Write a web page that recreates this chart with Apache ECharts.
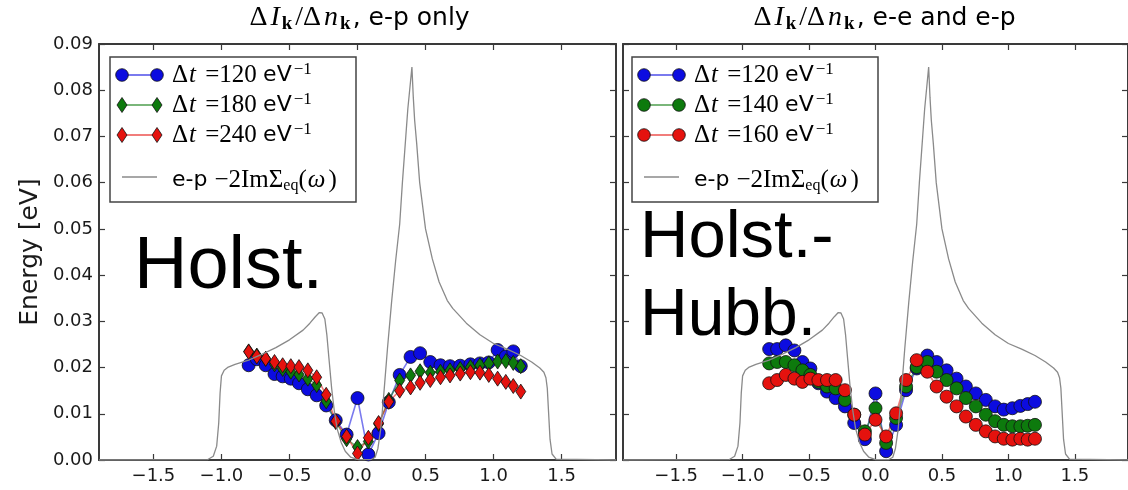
<!DOCTYPE html>
<html><head><meta charset="utf-8">
<script src="https://cdn.jsdelivr.net/npm/echarts@6/dist/echarts.min.js"></script>
<style>html,body{margin:0;padding:0;background:#fff}#c{width:1128px;height:490px}</style>
</head><body><div id="c"></div>
<script>
// ---------- data ----------
const xTicks = [-1.5, -1.0, -0.5, 0.0, 0.5, 1.0, 1.5];
const yTicks = [0.00, 0.01, 0.02, 0.03, 0.04, 0.05, 0.06, 0.07, 0.08, 0.09];
const kEnergy = [-0.80, -0.74, -0.675, -0.61, -0.55, -0.49, -0.43, -0.365, -0.30, -0.23, -0.16, -0.08, 0.0, 0.08, 0.155, 0.23, 0.31, 0.39, 0.46, 0.535, 0.61, 0.68, 0.755, 0.83, 0.90, 0.965, 1.03, 1.09, 1.145, 1.20];
// panel 1: e-p only
const epBlue120 = [0.0205, 0.0218, 0.0205, 0.0186, 0.0181, 0.0176, 0.0166, 0.0153, 0.0140, 0.0118, 0.0086, 0.0055, 0.0134, 0.0012, 0.0058, 0.0125, 0.0184, 0.0223, 0.0231, 0.0212, 0.0205, 0.0203, 0.0204, 0.0207, 0.0209, 0.0211, 0.0238, 0.0224, 0.0235, 0.0203];
const epGreen180 = [0.0235, 0.0226, 0.0219, 0.0207, 0.0197, 0.0191, 0.0185, 0.0176, 0.0162, 0.0127, 0.0082, 0.0045, 0.0028, 0.0040, 0.0078, 0.0130, 0.0172, 0.0183, 0.0192, 0.0189, 0.0191, 0.0194, 0.0197, 0.0201, 0.0205, 0.0209, 0.0213, 0.0214, 0.0210, 0.0203];
const epRed240 = [0.0234, 0.0224, 0.0219, 0.0212, 0.0205, 0.0203, 0.0201, 0.0194, 0.0179, 0.0141, 0.0084, 0.0051, 0.0014, 0.0048, 0.0080, 0.0126, 0.0150, 0.0157, 0.0167, 0.0173, 0.0179, 0.0183, 0.0187, 0.0190, 0.0189, 0.0184, 0.0176, 0.0169, 0.0160, 0.0148];
// panel 2: e-e and e-p
const eeBlue120 = [0.0240, 0.0240, 0.0248, 0.0237, 0.0212, 0.0198, 0.0166, 0.0148, 0.0134, 0.0116, 0.0080, 0.0045, 0.0144, 0.0019, 0.0076, 0.0151, 0.0198, 0.0226, 0.0212, 0.0194, 0.0176, 0.0159, 0.0144, 0.0130, 0.0116, 0.0109, 0.0112, 0.0117, 0.0121, 0.0126];
const eeGreen140 = [0.0209, 0.0212, 0.0212, 0.0205, 0.0194, 0.0184, 0.0169, 0.0159, 0.0155, 0.0130, 0.0098, 0.0062, 0.0112, 0.0037, 0.0091, 0.0159, 0.0201, 0.0212, 0.0191, 0.0173, 0.0155, 0.0134, 0.0116, 0.0098, 0.0084, 0.0076, 0.0073, 0.0073, 0.0074, 0.0076];
const eeRed160 = [0.0166, 0.0173, 0.0184, 0.0176, 0.0169, 0.0176, 0.0173, 0.0173, 0.0173, 0.0151, 0.0098, 0.0055, 0.0087, 0.0051, 0.0101, 0.0173, 0.0216, 0.0191, 0.0159, 0.0137, 0.0116, 0.0094, 0.0076, 0.0062, 0.0051, 0.0046, 0.0044, 0.0046, 0.0044, 0.0046];
// e-p  -2 Im Sigma_eq(omega)
const sigmaOmega = [-1.9, -1.1, -1.06, -1.035, -1.02, -1.01, -1.0, -0.98, -0.95, -0.9, -0.8, -0.7, -0.6, -0.5, -0.4, -0.35, -0.31, -0.28, -0.26, -0.24, -0.225, -0.21, -0.19, -0.17, -0.15, -0.12, -0.09, -0.05, 0.0, 0.1, 0.13, 0.15, 0.17, 0.19, 0.22, 0.25, 0.28, 0.31, 0.33, 0.355, 0.37, 0.39, 0.40, 0.41, 0.42, 0.435, 0.457, 0.5, 0.55, 0.6, 0.66, 0.7, 0.8, 0.9, 1.0, 1.1, 1.2, 1.28, 1.34, 1.37, 1.385, 1.395, 1.405, 1.415, 1.43, 1.46, 1.9];
const sigmaValue = [0, 0.0001, 0.0008, 0.003, 0.008, 0.0145, 0.0182, 0.0194, 0.0201, 0.0207, 0.0216, 0.0229, 0.0243, 0.026, 0.0281, 0.0296, 0.031, 0.0319, 0.0318, 0.0305, 0.027, 0.022, 0.0155, 0.0105, 0.0068, 0.0038, 0.0019, 0.0006, 0.0001, 0.0001, 0.0006, 0.0025, 0.0065, 0.013, 0.024, 0.034, 0.043, 0.051, 0.060, 0.070, 0.076, 0.082, 0.085, 0.0785, 0.0735, 0.0685, 0.060, 0.050, 0.0435, 0.0385, 0.0345, 0.0328, 0.0296, 0.0271, 0.0252, 0.024, 0.0226, 0.0212, 0.0199, 0.019, 0.0178, 0.0155, 0.010, 0.0045, 0.0013, 0.0002, 0];
const legendEP = ['120', '180', '240'];
const legendEE = ['120', '140', '160'];
// ---------- chart ----------
const BLUE = '#0c0ce0', GREEN = '#0d7a0d', RED = '#e5120e', GRAY = '#8a8a8a';
const pairs = (xs, ys) => xs.map((x, i) => [x, ys[i]]);
const fmtX = v => (v < 0 ? '\u2212' : '') + Math.abs(v).toFixed(1);
const axisCol = '#3a3a3a';
function xAx(grid, pos, labels) {
  return {
    type: 'value', gridIndex: grid, position: pos, min: -1.9, max: 1.9,
    axisLine: { show: true, onZero: false, lineStyle: { color: axisCol, width: 2 } },
    axisTick: { show: true, inside: true, length: 6, customValues: xTicks, lineStyle: { color: axisCol, width: 1.2 } },
    axisLabel: { show: labels, customValues: xTicks, formatter: fmtX, fontSize: 18, fontFamily: 'DejaVu Sans', color: '#1a1a1a', margin: 7 },
    splitLine: { show: false }
  };
}
function yAx(grid, pos, labels) {
  return {
    type: 'value', gridIndex: grid, position: pos, min: 0, max: 0.09, interval: 0.01,
    axisLine: { show: true, onZero: false, lineStyle: { color: axisCol, width: 2 } },
    axisTick: { show: true, inside: true, length: 6, lineStyle: { color: axisCol, width: 1.2 } },
    axisLabel: { show: labels, formatter: v => v.toFixed(2), fontSize: 18, fontFamily: 'DejaVu Sans', color: '#1a1a1a', margin: 6 },
    splitLine: { show: false }
  };
}
function dataSeries(ax, ys, color, symbol, size) {
  return {
    type: 'line', xAxisIndex: ax, yAxisIndex: ax, data: pairs(kEnergy, ys),
    symbol: symbol, symbolSize: size, showAllSymbol: true, z: 3,
    itemStyle: { color: color, borderColor: '#111', borderWidth: 0.8 },
    lineStyle: { color: color, opacity: 0.55, width: 1.6 },
    emphasis: { disabled: true }
  };
}
function sigmaSeries(ax) {
  return {
    type: 'line', xAxisIndex: ax, yAxisIndex: ax, data: pairs(sigmaOmega, sigmaValue),
    showSymbol: false, symbol: 'none', z: 4,
    lineStyle: { color: GRAY, width: 1.3 }, emphasis: { disabled: true }
  };
}
const rich = {
  g: { fontFamily: 'Liberation Serif', fontSize: 25, color: '#111', lineHeight: 28, verticalAlign: 'middle' },
  i: { fontFamily: 'Liberation Serif', fontStyle: 'italic', fontSize: 25, color: '#111', lineHeight: 28, verticalAlign: 'middle', padding: [0, 3, 0, 1] },
  s: { fontFamily: 'DejaVu Sans', fontSize: 22, color: '#111', lineHeight: 28, verticalAlign: 'middle' },
  p: { fontFamily: 'Liberation Serif', fontSize: 17, color: '#111', lineHeight: 28, verticalAlign: 'top', padding: [0, 0, 0, 2] },
  b: { fontFamily: 'Liberation Serif', fontSize: 16, color: '#111', lineHeight: 28, verticalAlign: 'bottom' }
};
const titleRich = {
  g: { fontFamily: 'Liberation Serif', fontSize: 28, color: '#111', lineHeight: 32, verticalAlign: 'middle', padding: [0, 1, 0, 1] },
  i: { fontFamily: 'Liberation Serif', fontStyle: 'italic', fontSize: 28, color: '#111', lineHeight: 32, verticalAlign: 'middle', padding: [0, 2, 0, 2] },
  k: { fontFamily: 'Liberation Serif', fontWeight: 'bold', fontSize: 19, color: '#111', lineHeight: 32, verticalAlign: 'bottom', padding: [0, 2, 0, 0] },
  s: { fontFamily: 'DejaVu Sans', fontSize: 25, color: '#111', lineHeight: 32, verticalAlign: 'middle' }
};
function legendGroup(x0, labels, colors, symbols) {
  const els = [{ type: 'rect', shape: { x: x0, y: 57, width: 246, height: 145 }, style: { fill: '#fff', stroke: '#444', lineWidth: 1.5 } }];
  const rows = [75, 105, 135];
  labels.forEach((lab, i) => {
    const y = rows[i], c = colors[i];
    els.push({ type: 'line', shape: { x1: x0 + 12, y1: y, x2: x0 + 47, y2: y }, style: { stroke: c, opacity: 0.55, lineWidth: 2 } });
    [x0 + 12, x0 + 47].forEach(mx => {
      if (symbols[i] === 'circle') els.push({ type: 'circle', shape: { cx: mx, cy: y, r: 6.3 }, style: { fill: c, stroke: '#111', lineWidth: 0.8 } });
      else els.push({ type: 'polygon', shape: { points: [[mx, y - 7.5], [mx + 5, y], [mx, y + 7.5], [mx - 5, y]] }, style: { fill: c, stroke: '#111', lineWidth: 0.8 } });
    });
    els.push({ type: 'text', x: x0 + 62, y: y, style: { text: '{g|\u0394}{i|t}{g| =' + lab + ' }{s|eV}{p|\u22121}', rich: rich, verticalAlign: 'middle' } });
  });
  els.push({ type: 'line', shape: { x1: x0 + 12, y1: 177, x2: x0 + 47, y2: 177 }, style: { stroke: GRAY, lineWidth: 1.3 } });
  els.push({ type: 'text', x: x0 + 62, y: 180, style: { text: '{s|e-p }{g|\u22122Im\u03A3}{b|eq}{g|(}{i|\u03C9}{g|)}', rich: rich, verticalAlign: 'middle' } });
  return els;
}
const graphics = [].concat(
  legendGroup(110, legendEP, [BLUE, GREEN, RED], ['circle', 'diamond', 'diamond']),
  legendGroup(632, legendEE, [BLUE, GREEN, RED], ['circle', 'circle', 'circle']),
  [
    { type: 'text', x: 359, y: 18, style: { text: '{g|\u0394}{i|I}{k|k}{g|/\u0394}{i|n}{k|k}{s|, e-p only}', rich: titleRich, align: 'center', verticalAlign: 'middle' } },
    { type: 'text', x: 884, y: 18, style: { text: '{g|\u0394}{i|I}{k|k}{g|/\u0394}{i|n}{k|k}{s|, e-e and e-p}', rich: titleRich, align: 'center', verticalAlign: 'middle' } },
    { type: 'text', x: 30, y: 252, rotation: Math.PI / 2, style: { text: 'Energy [eV]', font: '25px "DejaVu Sans"', fill: '#1a1a1a', align: 'center', verticalAlign: 'middle' } },
    { type: 'text', x: 134, y: 268, z: 100, style: { text: 'Holst.', font: '74px "Liberation Sans"', fill: '#000', align: 'left', verticalAlign: 'middle' } },
    { type: 'text', x: 640, y: 239, z: 100, style: { text: 'Holst.-', font: '67px "Liberation Sans"', fill: '#000', align: 'left', verticalAlign: 'middle' } },
    { type: 'text', x: 640, y: 317, z: 100, style: { text: 'Hubb.', font: '66px "Liberation Sans"', fill: '#000', align: 'left', verticalAlign: 'middle' } }
  ]
);
const chart = echarts.init(document.getElementById('c'), null, { renderer: 'canvas' });
chart.setOption({
  animation: false,
  backgroundColor: '#fff',
  grid: [{ left: 99, top: 44, width: 517, height: 416 }, { left: 623, top: 44, width: 519, height: 416 }],
  xAxis: [xAx(0, 'bottom', true), xAx(0, 'top', false), xAx(1, 'bottom', true), xAx(1, 'top', false)],
  yAxis: [yAx(0, 'left', true), yAx(0, 'right', false), yAx(1, 'left', false), yAx(1, 'right', false)],
  series: [
    dataSeries(0, epBlue120, BLUE, 'circle', 13),
    dataSeries(0, epGreen180, GREEN, 'diamond', [10, 15]),
    dataSeries(0, epRed240, RED, 'diamond', [10, 15]),
    sigmaSeries(0),
    dataSeries(2, eeBlue120, BLUE, 'circle', 13),
    dataSeries(2, eeGreen140, GREEN, 'circle', 13),
    dataSeries(2, eeRed160, RED, 'circle', 13),
    sigmaSeries(2)
  ],
  graphic: graphics
});
</script></body></html>
